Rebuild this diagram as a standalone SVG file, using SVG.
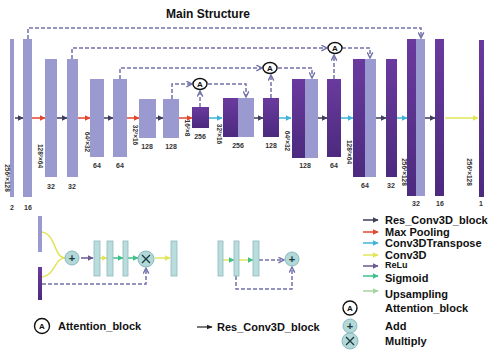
<svg xmlns="http://www.w3.org/2000/svg" width="493" height="363" viewBox="0 0 493 363">
<defs>
<linearGradient id="dk" x1="0" y1="0" x2="0" y2="1">
<stop offset="0" stop-color="#6a3a9e"/>
<stop offset="1" stop-color="#4c2a7e"/>
</linearGradient>
<marker id="mk" viewBox="0 0 10 10" refX="9" refY="5" markerWidth="6" markerHeight="6" markerUnits="userSpaceOnUse" orient="auto"><path d="M0,0 L10,5 L0,10 z" fill="#3c3c5c"/></marker>
<marker id="mr" viewBox="0 0 10 10" refX="9" refY="5" markerWidth="6" markerHeight="6" markerUnits="userSpaceOnUse" orient="auto"><path d="M0,0 L10,5 L0,10 z" fill="#e5452e"/></marker>
<marker id="mc" viewBox="0 0 10 10" refX="9" refY="5" markerWidth="6" markerHeight="6" markerUnits="userSpaceOnUse" orient="auto"><path d="M0,0 L10,5 L0,10 z" fill="#3fb4d8"/></marker>
<marker id="my" viewBox="0 0 10 10" refX="9" refY="5" markerWidth="6" markerHeight="6" markerUnits="userSpaceOnUse" orient="auto"><path d="M0,0 L10,5 L0,10 z" fill="#e2e45a"/></marker>
<marker id="mp" viewBox="0 0 10 10" refX="9" refY="5" markerWidth="6" markerHeight="6" markerUnits="userSpaceOnUse" orient="auto"><path d="M0,0 L10,5 L0,10 z" fill="#6a5a90"/></marker>
<marker id="mg" viewBox="0 0 10 10" refX="9" refY="5" markerWidth="6" markerHeight="6" markerUnits="userSpaceOnUse" orient="auto"><path d="M0,0 L10,5 L0,10 z" fill="#3ec08a"/></marker>
<marker id="ml" viewBox="0 0 10 10" refX="9" refY="5" markerWidth="6" markerHeight="6" markerUnits="userSpaceOnUse" orient="auto"><path d="M0,0 L10,5 L0,10 z" fill="#a6d4a0"/></marker>
<marker id="md" viewBox="0 0 10 10" refX="9" refY="5" markerWidth="7" markerHeight="7" markerUnits="userSpaceOnUse" orient="auto"><path d="M1,1 L9,5 L1,9" fill="none" stroke="#7272aa" stroke-width="2"/></marker>
<marker id="mb" viewBox="0 0 10 10" refX="9" refY="5" markerWidth="6" markerHeight="6" markerUnits="userSpaceOnUse" orient="auto"><path d="M0,1 L10,5 L0,9 z" fill="#222"/></marker>
</defs>
<style>
.lt{fill:#9a9ad0}
.dk{fill:url(#dk)}
.tb{fill:#b9dcdc;stroke:#8fb8bc;stroke-width:0.8}
.cir{fill:#b3d8d8;stroke:#8ab8c0;stroke-width:1}
.att{fill:#fff;stroke:#111;stroke-width:1.4}
.num{font-family:"Liberation Sans",Arial,sans-serif;font-size:7px;font-weight:bold;fill:#333;text-anchor:middle}
.rot{font-family:"Liberation Sans",Arial,sans-serif;font-size:6.5px;font-weight:bold;fill:#333;text-anchor:middle}
.leg{font-family:"Liberation Sans",Arial,sans-serif;font-size:11px;font-weight:bold;fill:#111}
.ttl{font-family:"Liberation Sans",Arial,sans-serif;font-size:12px;font-weight:bold;fill:#111;text-anchor:middle}
.A{font-family:"Liberation Sans",Arial,sans-serif;font-size:8px;font-weight:bold;fill:#111;text-anchor:middle}
.sym{font-family:"Liberation Sans",Arial,sans-serif;font-size:11px;font-weight:bold;fill:#1a3a40;text-anchor:middle}
.ds{fill:none;stroke:#7272aa;stroke-width:1.5;stroke-dasharray:4 2}
.ak{stroke:#3c3c5c;stroke-width:1.5;marker-end:url(#mk)}
.ar{stroke:#e5452e;stroke-width:1.5;marker-end:url(#mr)}
.ac{stroke:#3fb4d8;stroke-width:1.5;marker-end:url(#mc)}
.ay{stroke:#e2e45a;stroke-width:1.5;marker-end:url(#my)}
.ap{stroke:#6a5a90;stroke-width:1.5;marker-end:url(#mp)}
.ag{stroke:#3ec08a;stroke-width:1.5;marker-end:url(#mg)}
.al{stroke:#a6d4a0;stroke-width:1.5;marker-end:url(#ml)}
</style>
<rect width="493" height="363" fill="#fff"/>
<text class="ttl" x="208" y="18">Main Structure</text>

<g id="connectors">
<line class="ak" x1="15" y1="118" x2="23" y2="118"/>
<line class="ar" x1="32" y1="118" x2="45" y2="118"/>
<line class="ak" x1="57" y1="118" x2="67" y2="118"/>
<line class="ar" x1="78" y1="118" x2="90" y2="118"/>
<line class="ak" x1="104" y1="118" x2="113" y2="118"/>
<line class="ar" x1="127" y1="118" x2="139" y2="118"/>
<line class="ak" x1="156" y1="118" x2="163" y2="118"/>
<line class="ar" x1="179" y1="118" x2="192" y2="118"/>
<line class="ac" x1="209" y1="118" x2="222" y2="118"/>
<line class="ak" x1="254" y1="118" x2="263" y2="118"/>
<line class="ac" x1="279" y1="118" x2="291" y2="118"/>
<line class="ak" x1="318" y1="118" x2="327" y2="118"/>
<line class="ac" x1="341" y1="118" x2="353" y2="118"/>
<line class="ak" x1="376" y1="118" x2="386" y2="118"/>
<line class="ac" x1="397" y1="118" x2="407" y2="118"/>
<line class="ak" x1="425" y1="118" x2="435" y2="118"/>
<line class="ay" x1="445" y1="118" x2="478" y2="118"/>
<path class="ds" d="M28,39 V28 H421 V38" marker-end="url(#md)"/>
<path class="ds" d="M72,59 V48 H327" marker-end="url(#md)"/>
<path class="ds" d="M342,48 H370 V58" marker-end="url(#md)"/>
<path class="ds" d="M334,79 V55" marker-end="url(#md)"/>
<path class="ds" d="M120,79 V68 H262" marker-end="url(#md)"/>
<path class="ds" d="M278,68 H312 V78" marker-end="url(#md)"/>
<path class="ds" d="M271,98 V75" marker-end="url(#md)"/>
<path class="ds" d="M172,99 V84 H192" marker-end="url(#md)"/>
<path class="ds" d="M208,84 H246 V97" marker-end="url(#md)"/>
<path class="ds" d="M200,107 V91" marker-end="url(#md)"/>
<path d="M42,232 C56,234 54,258 65,258" fill="none" stroke="#e2e45a" stroke-width="1.5"/>
<path d="M42,277 C56,275 54,258 65,258" fill="none" stroke="#e2e45a" stroke-width="1.5"/>
<line class="ap" x1="81" y1="258" x2="93" y2="258"/>
<line class="ay" x1="100" y1="258" x2="107" y2="258"/>
<line class="ag" x1="113" y1="258" x2="123" y2="258"/>
<line class="ag" x1="128" y1="258" x2="138" y2="258"/>
<line class="ay" x1="155" y1="258" x2="170" y2="258"/>
<path class="ds" d="M42,284 H146 V268" marker-end="url(#md)"/>
<line x1="223" y1="260" x2="234" y2="260" stroke="#e2e45a" stroke-width="1.5" marker-end="url(#mg)"/>
<line x1="239" y1="260" x2="253" y2="260" stroke="#e2e45a" stroke-width="1.5" marker-end="url(#mg)"/>
<path class="ds" d="M259,260 H284" marker-end="url(#md)"/>
<path class="ds" d="M236,276 V289 H292 V267" marker-end="url(#md)"/>
</g>

<g id="enc1"><rect class="lt" x="10" y="39" width="4" height="158"/><text class="num" x="12" y="210">2</text><text class="rot" transform="translate(4.5,178) rotate(90)">256²×128</text></g>
<g id="enc2"><rect class="lt" x="23" y="39" width="9" height="158"/><text class="num" x="28" y="210">16</text><text class="rot" transform="translate(37.5,156) rotate(90)">128²×64</text></g>
<g id="enc3"><rect class="lt" x="45" y="59" width="12" height="118"/><text class="num" x="51" y="189">32</text></g>
<g id="enc4"><rect class="lt" x="67" y="59" width="11" height="118"/><text class="num" x="72" y="189">32</text><text class="rot" transform="translate(84.5,142) rotate(90)">64²×32</text></g>
<g id="enc5"><rect class="lt" x="90" y="79" width="14" height="78"/><text class="num" x="97" y="168">64</text></g>
<g id="enc6"><rect class="lt" x="113" y="79" width="14" height="78"/><text class="num" x="120" y="168">64</text><text class="rot" transform="translate(132.5,135) rotate(90)">32²×16</text></g>
<g id="enc7"><rect class="lt" x="139" y="99" width="17" height="39"/><text class="num" x="147" y="149">128</text></g>
<g id="enc8"><rect class="lt" x="163" y="99" width="16" height="39"/><text class="num" x="171" y="149">128</text><text class="rot" transform="translate(184.5,128) rotate(90)">16²×8</text></g>
<g id="bottleneck"><rect class="dk" x="192" y="107" width="17" height="21"/><text class="num" x="200" y="139">256</text><text class="rot" transform="translate(216.5,134) rotate(90)">32²×16</text></g>
<g id="dec1"><rect class="dk" x="223" y="98" width="15" height="39"/><rect class="lt" x="238" y="98" width="16" height="39"/><text class="num" x="238" y="148">256</text></g>
<g id="dec2"><rect class="dk" x="263" y="98" width="16" height="39"/><text class="num" x="271" y="148">128</text><text class="rot" transform="translate(284.5,141) rotate(90)">64²×32</text></g>
<g id="dec3"><rect class="dk" x="292" y="79" width="13" height="79"/><rect class="lt" x="305" y="79" width="13" height="79"/><text class="num" x="305" y="168">128</text></g>
<g id="dec4"><rect class="dk" x="327" y="79" width="14" height="78"/><text class="num" x="334" y="168">64</text><text class="rot" transform="translate(346.5,152) rotate(90)">128²×64</text></g>
<g id="dec5"><rect class="dk" x="353" y="59" width="12" height="118"/><rect class="lt" x="365" y="59" width="11" height="118"/><text class="num" x="365" y="188">64</text></g>
<g id="dec6"><rect class="dk" x="386" y="59" width="11" height="118"/><text class="num" x="391" y="188">32</text><text class="rot" transform="translate(401.5,172) rotate(90)">256²×128</text></g>
<g id="dec7"><rect class="dk" x="407" y="39" width="9" height="157"/><rect class="lt" x="416" y="39" width="9" height="157"/><text class="num" x="416" y="206">32</text></g>
<g id="dec8"><rect class="dk" x="435" y="39" width="9" height="157"/><text class="num" x="440" y="206">16</text></g>
<g id="out"><rect class="dk" x="479" y="40" width="5" height="157"/><text class="num" x="481" y="206">1</text><text class="rot" transform="translate(466.5,172) rotate(90)">256²×128</text></g>

<g id="att1"><ellipse class="att" cx="335" cy="48" rx="7" ry="5.5"/><text class="A" x="335" y="51">A</text></g>
<g id="att2"><ellipse class="att" cx="270" cy="68" rx="7" ry="5.5"/><text class="A" x="270" y="71">A</text></g>
<g id="att3"><ellipse class="att" cx="200" cy="84" rx="7" ry="5.5"/><text class="A" x="200" y="87">A</text></g>

<g id="attention-detail">
<rect class="lt" x="38" y="216" width="4" height="36"/>
<rect class="dk" x="38" y="267" width="4" height="33"/>
<circle class="cir" cx="72" cy="258" r="7"/><text class="sym" x="72" y="262">+</text>
<rect class="tb" x="94" y="241" width="6" height="35"/>
<rect class="tb" x="107" y="241" width="6" height="35"/>
<rect class="tb" x="123" y="241" width="5" height="35"/>
<circle class="cir" cx="146" cy="259" r="8"/><path d="M142,255 L150,263 M150,255 L142,263" stroke="#1a3a40" stroke-width="1.3"/>
<rect class="tb" x="171" y="241" width="6" height="35"/>
</g>
<g id="res-detail">
<rect class="tb" x="218" y="241" width="5" height="35"/>
<rect class="tb" x="234" y="241" width="5" height="35"/>
<rect class="tb" x="253" y="241" width="6" height="35"/>
<circle class="cir" cx="292" cy="259" r="7"/><text class="sym" x="292" y="263">+</text>
</g>

<g id="legend-bottom">
<ellipse class="att" cx="42" cy="326" rx="7.5" ry="7.5"/><text class="A" x="42" y="329">A</text>
<text class="leg" x="58" y="330">Attention_block</text>
<line x1="197" y1="327" x2="212" y2="327" stroke="#222" stroke-width="1.2" marker-end="url(#mb)"/>
<text class="leg" x="217" y="331">Res_Conv3D_block</text>
</g>

<g id="legend">
<line class="ak" x1="363" y1="220" x2="378" y2="220"/><text class="leg" x="385" y="224">Res_Conv3D_block</text>
<line class="ar" x1="363" y1="232" x2="378" y2="232"/><text class="leg" x="385" y="236">Max Pooling</text>
<line class="ac" x1="363" y1="243" x2="378" y2="243"/><text class="leg" x="385" y="247">Conv3DTranspose</text>
<line class="ay" x1="363" y1="255" x2="378" y2="255"/><text class="leg" x="385" y="259">Conv3D</text>
<line class="ap" x1="363" y1="266" x2="378" y2="266"/><text class="leg" x="385" y="268" style="font-size:9px">ReLu</text>
<line class="ag" x1="363" y1="276" x2="378" y2="276"/><text class="leg" x="385" y="282">Sigmoid</text>
<line class="al" x1="363" y1="291" x2="378" y2="291"/><text class="leg" x="385" y="298">Upsampling</text>
<ellipse class="att" cx="350" cy="308" rx="7" ry="7"/><text class="A" x="350" y="311">A</text><text class="leg" x="385" y="312">Attention_block</text>
<circle class="cir" cx="350" cy="326" r="7"/><text class="sym" x="350" y="330">+</text><text class="leg" x="385" y="330">Add</text>
<circle class="cir" cx="350" cy="341" r="8"/><path d="M346,337 L354,345 M354,337 L346,345" stroke="#1a3a40" stroke-width="1.3"/><text class="leg" x="385" y="345">Multiply</text>
</g>
</svg>
